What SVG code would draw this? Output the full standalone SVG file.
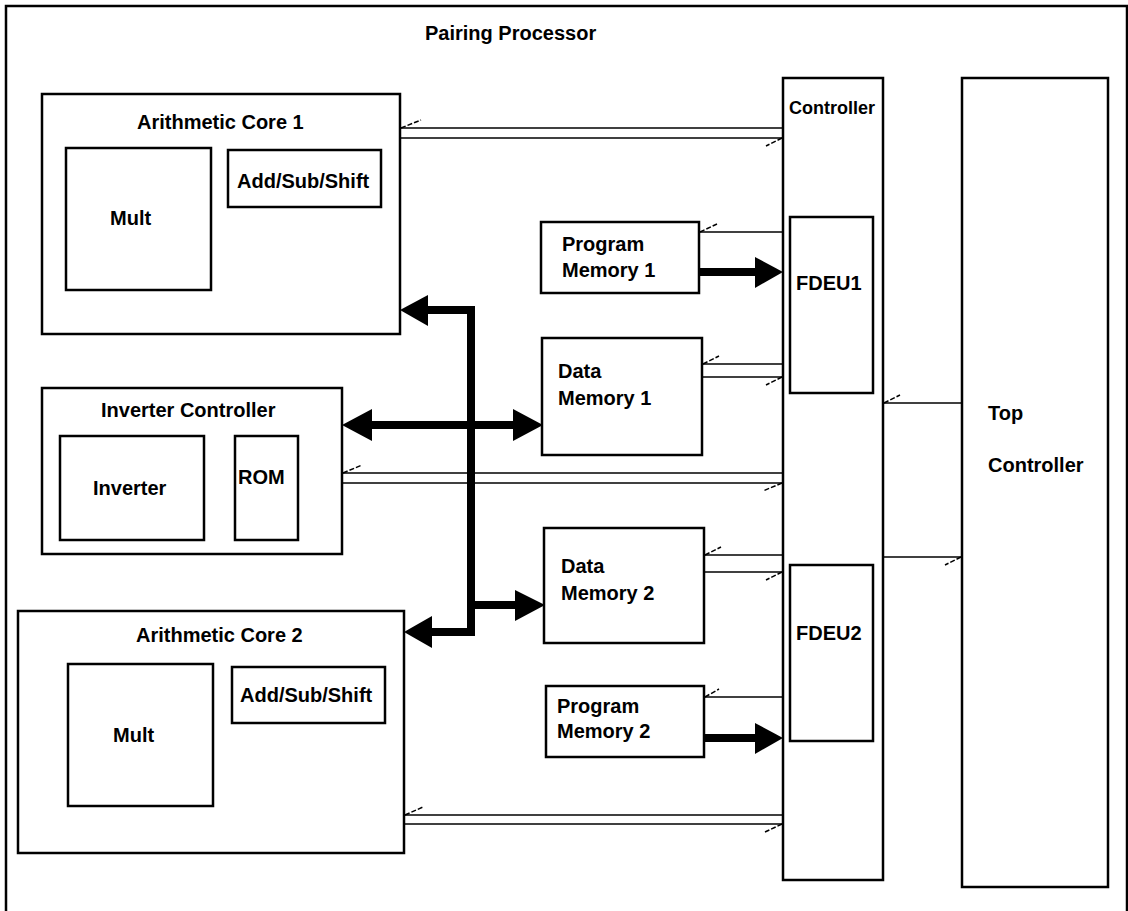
<svg xmlns="http://www.w3.org/2000/svg" width="1128" height="911" viewBox="0 0 1128 911">
<style>
.box{fill:#fff;stroke:#000;stroke-width:2.5}
.frame{fill:none;stroke:#000;stroke-width:2.5}
.t{font-family:"Liberation Sans Narrow","Liberation Sans",Arial,sans-serif;font-weight:bold;font-size:20px;fill:#000}
.ts{font-size:18px}
.thin{stroke:#000;stroke-width:1.5;fill:none}
.barb{stroke:#000;stroke-width:1.5;stroke-dasharray:5,2;fill:none}
.bus{stroke:#000;stroke-width:8;fill:none}
.ah{fill:#000;stroke:none}
</style>
<rect width="1128" height="911" fill="#fff"/>
<rect class="frame" x="6" y="6" width="1121" height="940"/>
<text class="t" x="425" y="40">Pairing Processor</text>

<g id="ac1">
<rect class="box" x="42" y="94" width="358" height="240"/>
<text class="t" x="137" y="129">Arithmetic Core 1</text>
<rect class="box" x="66" y="148" width="145" height="142"/>
<text class="t" x="110" y="225">Mult</text>
<rect class="box" x="228" y="150" width="153" height="57"/>
<text class="t" x="237" y="188">Add/Sub/Shift</text>
</g>

<g id="invctl">
<rect class="box" x="42" y="388" width="300" height="166"/>
<text class="t" x="101" y="417">Inverter Controller</text>
<rect class="box" x="60" y="436" width="144" height="104"/>
<text class="t" x="93" y="495">Inverter</text>
<rect class="box" x="235" y="436" width="63" height="104"/>
<text class="t" x="238" y="484">ROM</text>
</g>

<g id="ac2">
<rect class="box" x="18" y="611" width="386" height="242"/>
<text class="t" x="136" y="642">Arithmetic Core 2</text>
<rect class="box" x="68" y="664" width="145" height="142"/>
<text class="t" x="113" y="742">Mult</text>
<rect class="box" x="232" y="667" width="153" height="56"/>
<text class="t" x="240" y="702">Add/Sub/Shift</text>
</g>

<g id="pm1">
<rect class="box" x="541" y="222" width="158" height="71"/>
<text class="t" x="562" y="251">Program</text>
<text class="t" x="562" y="277">Memory 1</text>
</g>
<g id="dm1">
<rect class="box" x="542" y="338" width="160" height="117"/>
<text class="t" x="558" y="378">Data</text>
<text class="t" x="558" y="405">Memory 1</text>
</g>
<g id="dm2">
<rect class="box" x="544" y="528" width="160" height="115"/>
<text class="t" x="561" y="573">Data</text>
<text class="t" x="561" y="600">Memory 2</text>
</g>
<g id="pm2">
<rect class="box" x="546" y="686" width="158" height="71"/>
<text class="t" x="557" y="713">Program</text>
<text class="t" x="557" y="738">Memory 2</text>
</g>

<g id="controller">
<rect class="box" x="783" y="78" width="100" height="802"/>
<text class="t ts" x="789" y="114">Controller</text>
</g>
<g id="fdeu1">
<rect class="box" x="790" y="217" width="83" height="176"/>
<text class="t" x="796" y="290">FDEU1</text>
</g>
<g id="fdeu2">
<rect class="box" x="790" y="565" width="83" height="176"/>
<text class="t" x="796" y="640">FDEU2</text>
</g>
<g id="topctl">
<rect class="box" x="962" y="78" width="146" height="809"/>
<text class="t" x="988" y="420">Top</text>
<text class="t" x="988" y="472">Controller</text>
</g>

<g id="connectors">
<!-- AC1 <-> Controller -->
<line class="thin" x1="401" y1="128" x2="783" y2="128"/>
<line class="thin" x1="401" y1="138" x2="783" y2="138"/>
<line class="barb" x1="401" y1="128" x2="421" y2="120"/>
<line class="barb" x1="782" y1="138" x2="766" y2="146"/>
<!-- PM1 -->
<line class="thin" x1="699" y1="232" x2="783" y2="232"/>
<line class="barb" x1="700" y1="232" x2="717" y2="224"/>
<line class="bus" x1="699" y1="272" x2="757" y2="272"/>
<polygon class="ah" points="783,272 755,257 755,288"/>
<!-- DM1 -->
<line class="thin" x1="702" y1="364" x2="783" y2="364"/>
<line class="thin" x1="702" y1="377" x2="783" y2="377"/>
<line class="barb" x1="703" y1="364" x2="719" y2="356"/>
<line class="barb" x1="782" y1="377" x2="766" y2="385"/>
<!-- Inverter controller <-> Controller -->
<line class="thin" x1="342" y1="473" x2="783" y2="473"/>
<line class="thin" x1="342" y1="483" x2="783" y2="483"/>
<line class="barb" x1="343" y1="473" x2="362" y2="465"/>
<line class="barb" x1="782" y1="483" x2="763" y2="491"/>
<!-- DM2 -->
<line class="thin" x1="704" y1="555" x2="783" y2="555"/>
<line class="thin" x1="704" y1="572" x2="783" y2="572"/>
<line class="barb" x1="705" y1="555" x2="721" y2="547"/>
<line class="barb" x1="782" y1="572" x2="766" y2="580"/>
<!-- PM2 -->
<line class="thin" x1="704" y1="697" x2="783" y2="697"/>
<line class="barb" x1="705" y1="697" x2="719" y2="689"/>
<line class="bus" x1="704" y1="738" x2="757" y2="738"/>
<polygon class="ah" points="783,738 755,723 755,754"/>
<!-- AC2 <-> Controller -->
<line class="thin" x1="404" y1="815" x2="783" y2="815"/>
<line class="thin" x1="404" y1="824" x2="783" y2="824"/>
<line class="barb" x1="405" y1="815" x2="423" y2="807"/>
<line class="barb" x1="782" y1="824" x2="765" y2="832"/>
<!-- Controller <-> Top Controller -->
<line class="thin" x1="883" y1="403" x2="962" y2="403"/>
<line class="barb" x1="884" y1="403" x2="900" y2="395"/>
<line class="thin" x1="883" y1="557" x2="962" y2="557"/>
<line class="barb" x1="961" y1="557" x2="945" y2="565"/>
<!-- data bus -->
<path class="bus" d="M426,310 H471 V632 H430" stroke-linejoin="miter"/>
<line class="bus" x1="370" y1="425" x2="515" y2="425"/>
<line class="bus" x1="471" y1="605" x2="517" y2="605"/>
<polygon class="ah" points="400,310 428,295 428,326"/>
<polygon class="ah" points="342,425 372,409 372,441"/>
<polygon class="ah" points="543,425 513,409 513,441"/>
<polygon class="ah" points="545,605 515,590 515,621"/>
<polygon class="ah" points="404,632 432,616 432,648"/>
</g>
</svg>
